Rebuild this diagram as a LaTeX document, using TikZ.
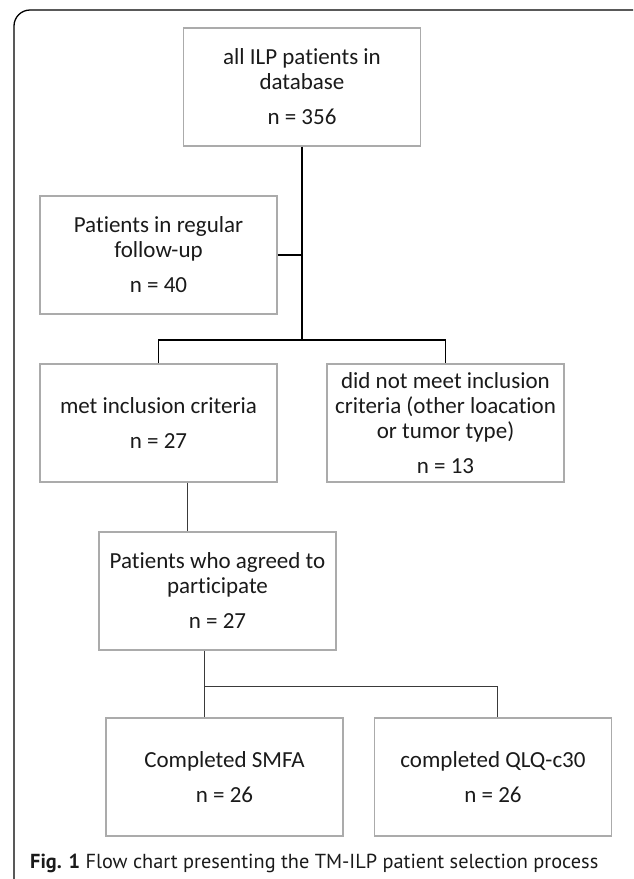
\documentclass[tikz,border=0pt]{standalone}
\usepackage{fontspec}
\setmainfont{Carlito}[Ligatures={NoCommon,NoDiscretionary,NoContextual}]
\newfontfamily\capfont{PT Sans}
\definecolor{boxgray}{HTML}{ABABAB}
\definecolor{txt}{HTML}{1A1A1A}
\definecolor{linegray}{HTML}{3A3A3A}
\begin{document}
\begin{tikzpicture}[x=1pt,y=-1pt,
  box/.style={draw=boxgray, line width=1.2pt, minimum width=237pt, minimum height=118pt,
    inner sep=0pt, align=center, text=txt, font=\fontsize{23}{25}\selectfont},
  heavyline/.style={line width=1.6pt, draw=black},
  lightline/.style={line width=1pt, draw=linegray},
  frame/.style={line width=1.3pt, draw=black, rounded corners=16pt}]
\useasboundingbox (0,0) rectangle (633,879);
\begin{scope}
\clip (0,0) rectangle (633,879);
\draw[frame] (14,10) rectangle (680,920);
\end{scope}

\node[box] (all) at (302,87) {all ILP patients in\\database\\[10pt]n = 356};
\node[box] (follow) at (158.5,255) {Patients in regular\\follow-up\\[10pt]n = 40};
\node[box] (met) at (158.5,423) {met inclusion criteria\\[9.5pt]n = 27};
\node[box] (notmet) at (445.5,423) {did not meet inclusion\\criteria (other loacation\\or tumor type)\\[9.5pt]n = 13};
\node[box] (agreed) at (217.5,591) {Patients who agreed to\\participate\\[10pt]n = 27};
\node[box] (smfa) at (224.5,777) {Completed SMFA\\[9.5pt]n = 26};
\node[box] (qlq) at (493,777) {completed QLQ-c30\\[9.5pt]n = 26};

\coordinate (split1) at (302,340);
\coordinate (split2) at (204,686);

\draw[heavyline] (all.south) -- (split1);
\draw[heavyline] (follow.east) -- (follow.east -| all.south);
\draw[heavyline] (met.north) |- (split1) -| (notmet.north);
\draw[lightline] (met.south -| 187,0) -- (agreed.north -| 187,0);
\draw[lightline] (agreed.south -| split2) -- (smfa.north -| split2);
\draw[lightline] (split2) -| (qlq.north -| 497,0);

\node[anchor=base west, inner sep=0pt, text=txt, font=\capfont\fontsize{20.3}{22}\selectfont] (caption) at (30,868)
  {\textbf{Fig. 1} Flow chart presenting the TM-ILP patient selection process};
\end{tikzpicture}
\end{document}
